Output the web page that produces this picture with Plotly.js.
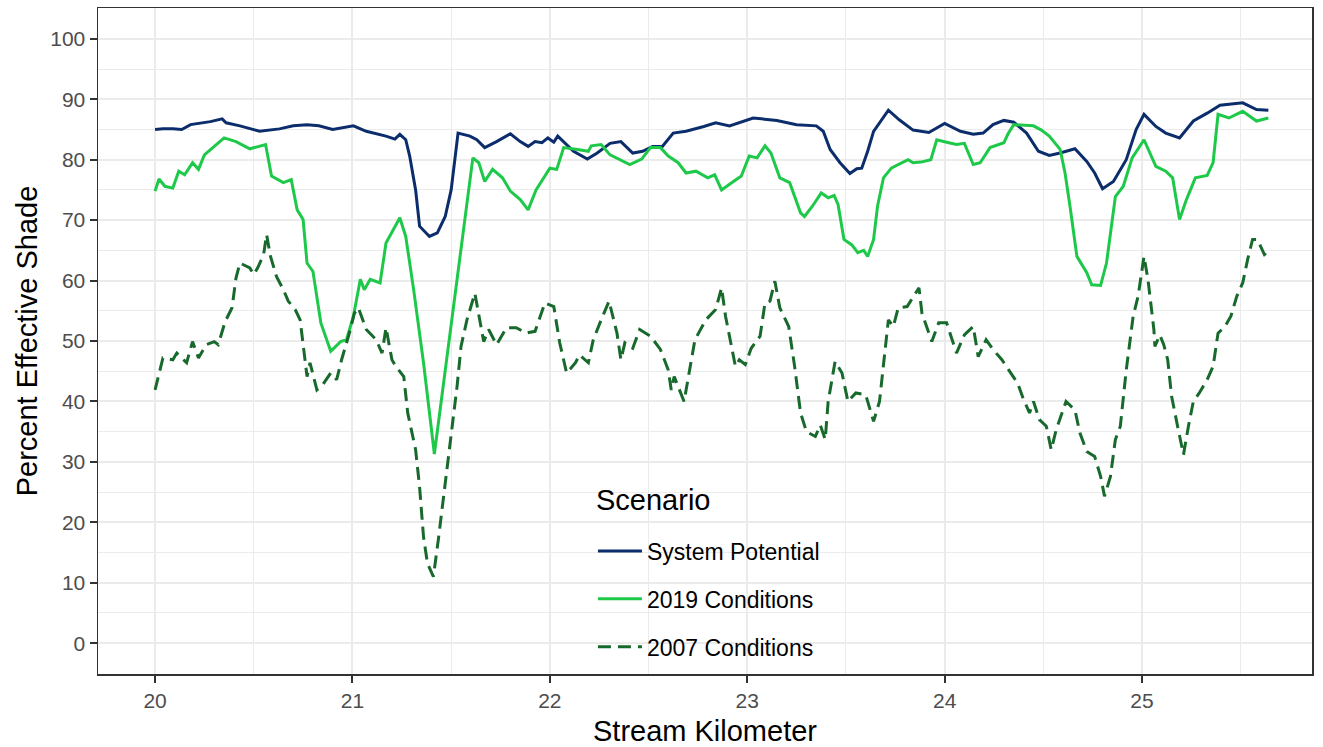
<!DOCTYPE html>
<html>
<head>
<meta charset="utf-8">
<script src="https://cdn.plot.ly/plotly-3.0.1.min.js"></script>
<style>html,body{margin:0;padding:0;background:#fff;}#chart{width:1323px;height:747px;}</style>
</head>
<body>
<div id="chart"></div>
<script>
// Scenario names
const scenarioNames = ["System Potential", "2019 Conditions", "2007 Conditions"];
const legendTitle = "Scenario";

// System Potential
const spKm = [20.00,20.04,20.09,20.135,20.18,20.28,20.34,20.36,20.43,20.53,20.63,20.70,20.77,20.83,20.90,21.005,21.07,21.17,21.215,21.24,21.27,21.29,21.32,21.34,21.39,21.43,21.47,21.50,21.535,21.56,21.595,21.63,21.67,21.73,21.80,21.85,21.89,21.925,21.96,21.99,22.02,22.04,22.12,22.19,22.24,22.305,22.36,22.42,22.47,22.52,22.57,22.625,22.69,22.78,22.84,22.91,23.03,23.15,23.25,23.35,23.385,23.42,23.47,23.52,23.555,23.58,23.61,23.64,23.715,23.77,23.84,23.92,24.00,24.08,24.145,24.195,24.245,24.30,24.35,24.415,24.475,24.53,24.585,24.66,24.72,24.76,24.80,24.855,24.92,24.97,25.01,25.07,25.12,25.19,25.26,25.33,25.395,25.51,25.58,25.64];
const spShade = [85.0,85.1,85.1,85.0,85.8,86.3,86.75,86.1,85.6,84.7,85.1,85.6,85.8,85.6,85.0,85.6,84.7,83.9,83.4,84.2,83.3,80.6,75.0,69.0,67.3,67.9,70.6,75.0,84.4,84.2,83.9,83.3,82.0,83.0,84.3,83.0,82.2,83.0,82.8,83.6,82.9,83.9,81.4,80.1,81.1,82.7,83.0,81.1,81.4,82.2,82.2,84.4,84.7,85.5,86.1,85.6,86.9,86.5,85.8,85.6,84.7,81.7,79.5,77.7,78.5,78.6,81.4,84.7,88.2,86.6,84.9,84.5,86.0,84.7,84.2,84.4,85.8,86.5,86.2,84.4,81.4,80.7,81.1,81.8,79.7,77.8,75.2,76.4,80.0,85.0,87.5,85.5,84.4,83.6,86.4,87.7,89.0,89.4,88.3,88.2];

// 2019 Conditions
const c2019Km = [20.00,20.02,20.05,20.09,20.12,20.15,20.19,20.22,20.25,20.31,20.35,20.41,20.48,20.56,20.59,20.65,20.69,20.72,20.75,20.77,20.80,20.84,20.89,20.94,20.97,21.005,21.04,21.06,21.09,21.14,21.17,21.24,21.27,21.31,21.36,21.415,21.61,21.64,21.67,21.71,21.76,21.80,21.85,21.89,21.93,21.975,22.00,22.035,22.07,22.14,22.195,22.21,22.26,22.305,22.405,22.465,22.51,22.56,22.60,22.65,22.69,22.74,22.80,22.835,22.87,22.93,22.97,23.01,23.05,23.09,23.12,23.165,23.215,23.27,23.29,23.33,23.375,23.41,23.44,23.46,23.49,23.53,23.56,23.59,23.61,23.64,23.66,23.69,23.73,23.765,23.815,23.84,23.88,23.93,23.96,24.01,24.06,24.10,24.145,24.18,24.23,24.30,24.32,24.35,24.45,24.49,24.53,24.585,24.61,24.635,24.67,24.72,24.745,24.79,24.82,24.865,24.905,24.95,25.01,25.07,25.12,25.155,25.19,25.225,25.27,25.33,25.36,25.385,25.44,25.51,25.58,25.64];
const c2019Shade = [74.8,76.8,75.6,75.3,78.1,77.5,79.5,78.4,80.8,82.5,83.6,83.0,81.8,82.5,77.3,76.2,76.7,71.7,70.1,62.9,61.5,53.0,48.3,49.9,50.2,54.1,60.2,58.5,60.2,59.6,66.2,70.4,67.3,58.5,46.4,31.3,80.3,79.5,76.4,78.4,77.0,74.8,73.4,71.7,75.0,77.3,78.6,78.4,82.0,81.7,81.4,82.3,82.5,80.8,79.2,80.1,82.0,82.0,80.6,79.5,77.8,78.1,77.0,77.5,75.0,76.4,77.3,80.6,80.3,82.3,81.1,77.0,76.2,71.2,70.6,72.3,74.5,73.7,74.1,72.6,66.8,65.9,64.6,65.0,64.0,66.8,72.3,77.0,78.6,79.2,80.0,79.5,79.6,80.0,83.3,82.9,82.5,82.7,79.2,79.5,82.0,82.8,84.2,85.8,85.6,84.9,83.9,81.7,77.8,72.3,64.0,61.3,59.3,59.2,62.9,73.9,75.6,80.3,83.3,78.9,78.1,77.0,70.1,73.4,77.0,77.4,79.5,87.5,86.9,88.0,86.4,86.9];

// 2007 Conditions
const c2007Km = [20.00,20.04,20.09,20.11,20.16,20.19,20.22,20.26,20.30,20.32,20.355,20.39,20.41,20.43,20.48,20.50,20.52,20.55,20.565,20.585,20.615,20.65,20.675,20.71,20.735,20.75,20.77,20.785,20.82,20.85,20.89,20.92,20.945,20.98,21.01,21.03,21.07,21.12,21.15,21.17,21.20,21.22,21.26,21.28,21.32,21.34,21.36,21.38,21.41,21.435,21.48,21.53,21.55,21.58,21.62,21.665,21.69,21.73,21.78,21.83,21.88,21.925,21.975,22.02,22.05,22.085,22.13,22.15,22.195,22.22,22.26,22.30,22.34,22.36,22.38,22.42,22.455,22.51,22.56,22.60,22.615,22.63,22.68,22.70,22.735,22.79,22.84,22.87,22.89,22.91,22.94,22.96,22.99,23.02,23.065,23.09,23.115,23.14,23.165,23.21,23.24,23.27,23.30,23.345,23.37,23.395,23.41,23.445,23.48,23.51,23.55,23.60,23.64,23.67,23.70,23.715,23.74,23.765,23.81,23.87,23.885,23.935,23.97,24.01,24.06,24.10,24.145,24.17,24.21,24.245,24.29,24.37,24.40,24.43,24.45,24.48,24.515,24.54,24.565,24.59,24.615,24.66,24.685,24.72,24.76,24.79,24.81,24.84,24.865,24.89,24.92,24.955,24.98,25.01,25.03,25.06,25.065,25.09,25.11,25.13,25.15,25.18,25.21,25.235,25.26,25.29,25.33,25.36,25.385,25.42,25.45,25.48,25.51,25.535,25.56,25.585,25.62,25.63];
const c2007Shade = [41.9,47.2,46.9,48.0,46.4,49.9,47.2,49.4,49.9,49.4,53.2,55.5,60.4,62.9,62.1,61.0,62.1,64.3,67.6,64.0,60.7,58.5,56.6,55.2,53.5,49.1,44.1,46.4,41.9,42.8,44.7,43.6,46.9,50.8,54.6,55.5,51.9,50.2,48.0,52.2,46.9,45.8,44.1,38.1,32.0,25.9,17.6,13.2,11.0,17.1,29.2,42.5,49.1,53.5,57.9,49.9,51.9,49.4,52.2,52.2,51.3,51.6,56.3,55.7,49.7,44.7,46.4,47.7,46.4,50.2,53.5,56.6,51.3,46.9,49.7,48.8,51.9,50.8,48.6,45.2,41.9,44.1,40.0,43.6,50.2,53.5,55.2,58.8,54.1,50.8,45.8,46.9,46.1,48.8,50.8,56.3,56.6,59.9,55.5,52.4,45.8,38.1,35.0,34.2,36.1,33.7,40.0,46.6,44.7,40.0,41.4,41.1,36.7,40.0,49.1,53.5,52.4,55.5,55.7,58.8,54.6,49.9,53.0,53.0,48.0,51.0,52.4,47.4,50.2,48.6,46.9,43.0,40.3,38.1,40.0,37.0,35.9,32.0,35.3,37.8,40.0,38.6,34.8,31.7,30.9,27.6,24.3,27.6,33.7,35.9,45.2,54.1,57.4,64.0,60.2,51.9,49.1,51.0,49.4,46.9,40.8,35.9,31.2,35.9,40.0,41.4,43.6,45.8,51.3,52.4,54.1,57.4,59.6,63.5,66.8,66.8,64.3,64.6];

// Axis ticks
const xTicks = [20, 21, 22, 23, 24, 25];
const yTicks = [0, 10, 20, 30, 40, 50, 60, 70, 80, 90, 100];

const FONT = '"Liberation Sans", Arial, sans-serif';

const traces = [
  {x: spKm, y: spShade, name: scenarioNames[0], legendgroup: 'a', mode: 'lines',
   line: {color: '#0c2d6b', width: 3}},
  {x: c2019Km, y: c2019Shade, name: scenarioNames[1], legendgroup: 'b', mode: 'lines',
   line: {color: '#1ec94a', width: 3}},
  {x: c2007Km, y: c2007Shade, name: scenarioNames[2], legendgroup: 'c', mode: 'lines',
   line: {color: '#17692c', width: 3, dash: '13px,7px'}}
];

const layout = {
  width: 1323, height: 747,
  margin: {l: 98, r: 11, t: 8, b: 73},
  paper_bgcolor: '#ffffff', plot_bgcolor: '#ffffff',
  font: {family: FONT, color: '#000'},
  showlegend: true,
  legend: {
    x: 0.4077, y: 0.217, xanchor: 'left', yanchor: 'top',
    bgcolor: 'rgba(255,255,255,0)', borderwidth: 0,
    traceorder: 'grouped', tracegroupgap: 15, itemwidth: 44,
    font: {family: FONT, size: 23, color: '#000'}
  },
  shapes: [
    {type: 'rect', xref: 'paper', yref: 'paper', x0: 0.401, x1: 0.601, y0: 0.0135, y1: 0.294,
     fillcolor: '#ffffff', line: {width: 0}, layer: 'between'}
  ],
  annotations: [
    {text: legendTitle, xref: 'paper', yref: 'paper', x: 0.4085, y: 0.261,
     xanchor: 'left', yanchor: 'middle', showarrow: false,
     font: {family: FONT, size: 29, color: '#000'}}
  ],
  xaxis: {
    range: [19.711, 25.861],
    tickvals: xTicks, ticktext: xTicks.map(String),
    ticks: 'outside', ticklen: 7, tickwidth: 2, tickcolor: '#333333',
    tickfont: {family: FONT, size: 21, color: '#4d4d4d'},
    showgrid: true, gridcolor: '#ebebeb', gridwidth: 2,
    minor: {dtick: 0.5, tick0: 19.5, showgrid: true, gridcolor: '#ebebeb', gridwidth: 1},
    zeroline: false,
    showline: true, mirror: true, linecolor: '#333333', linewidth: 1.5,
    title: {text: 'Stream Kilometer', font: {family: FONT, size: 29, color: '#000'}, standoff: 10}
  },
  yaxis: {
    range: [-5.1, 105.1],
    tickvals: yTicks, ticktext: yTicks.map(String),
    ticks: 'outside', ticklen: 7, tickwidth: 2, tickcolor: '#333333',
    tickfont: {family: FONT, size: 21, color: '#4d4d4d'},
    showgrid: true, gridcolor: '#ebebeb', gridwidth: 2,
    minor: {dtick: 5, tick0: -5, showgrid: true, gridcolor: '#ebebeb', gridwidth: 1},
    zeroline: false,
    showline: true, mirror: true, linecolor: '#333333', linewidth: 1.5,
    title: {text: 'Percent Effective Shade', font: {family: FONT, size: 29, color: '#000'}, standoff: 4}
  }
};

Plotly.newPlot('chart', traces, layout, {displayModeBar: false, staticPlot: true});
</script>
</body>
</html>
